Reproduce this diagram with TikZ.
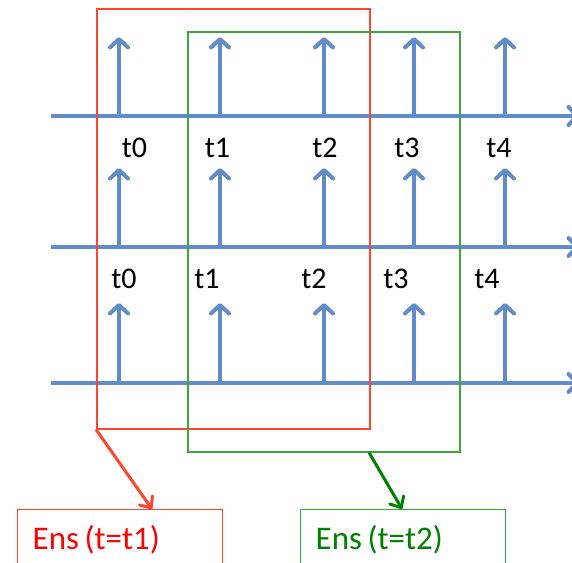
\documentclass[tikz,border=0pt]{standalone}
\usepackage{fontspec}
\setmainfont{Carlito}
\usetikzlibrary{arrows.meta,calc}
\definecolor{axisblue}{RGB}{96,141,201}
\definecolor{winred}{RGB}{255,70,45}
\definecolor{txtred}{RGB}{255,0,0}
\definecolor{wingreen}{RGB}{60,165,60}
\definecolor{txtgreen}{RGB}{0,128,0}
\begin{document}
\begin{tikzpicture}[x=1pt,y=-1pt,
  bluearrow/.style={draw=axisblue, line width=4pt, -{Straight Barb[round,length=8.5pt,width=18pt]}},
  tlabel/.style={font=\fontsize{30}{36}\selectfont, inner sep=0pt, text=black},
  frame/.style={line width=1.5pt, anchor=north west, inner sep=0pt, minimum width=273pt, minimum height=420pt},
  ensbox/.style={line width=1.4pt, anchor=north west, inner sep=0pt, inner xsep=15pt,
    text width=175pt, align=left, text height=40pt, text depth=30pt,
    font=\fontsize{33}{40}\selectfont},
  link/.style={line width=3pt, -{Straight Barb[round,length=9pt,width=16pt]}}
]
\useasboundingbox (0,0) rectangle (572,562);
\clip (0,0) rectangle (572,562);
% time axes
\foreach \name/\y in {axA/116, axB/247, axC/383}{
  \coordinate (\name s) at (51,\y);
  \coordinate (\name e) at (579,\y);
  \draw[bluearrow] (\name s) -- (\name e);
}
% spikes
\foreach \name/\yb/\yt in {axA/116/37, axB/247/168, axC/383/303}{
  \foreach \i/\x in {0/119, 1/220, 2/324, 3/414, 4/505}{
    \coordinate (\name b\i) at (\x,\yb);
    \coordinate (\name t\i) at (\x,\yt);
    \draw[bluearrow] (\name b\i) -- (\name t\i);
  }
}
% labels
\foreach \i/\x in {0/134.5, 1/217.5, 2/325, 3/407, 4/499}{
  \node[tlabel] (la\i) at (\x,148) {t\i};
}
\foreach \i/\x in {0/124, 1/207, 2/314, 3/396, 4/487}{
  \node[tlabel] (lb\i) at (\x,279) {t\i};
}
% windows
\node[frame, draw=winred] (winA) at (96,8) {};
\node[frame, draw=wingreen, minimum width=272pt] (winB) at (187,31) {};
% ensemble boxes
\node[ensbox, draw=winred, text=txtred, minimum width=205pt] (ensA) at (17,509) {Ens\hspace{0.17em}(t=t1)};
\node[ensbox, draw=wingreen, text=txtgreen, minimum width=205pt] (ensB) at (300,509) {Ens\hspace{0.17em}(t=t2)};
% links
\coordinate (linkAend) at ($(ensA.north west)+(135,0)$);
\coordinate (linkBstart) at ($(winB.south west)+(182,0)$);
\coordinate (linkBend) at ($(ensB.north west)+(102,0)$);
\draw[link, draw=winred] (winA.south west) -- (linkAend);
\draw[link, draw=txtgreen] (linkBstart) -- (linkBend);
\end{tikzpicture}
\end{document}
